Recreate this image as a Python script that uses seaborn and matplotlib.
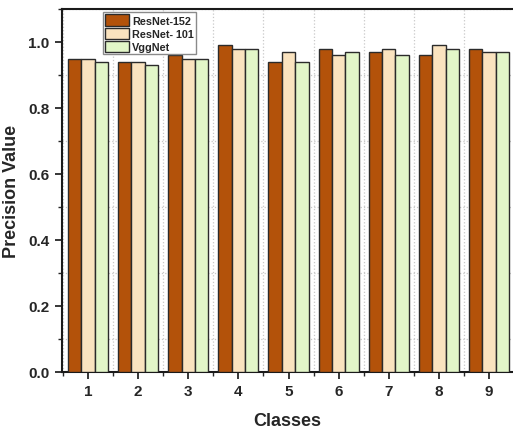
import matplotlib
matplotlib.use("Agg")
import matplotlib.pyplot as plt
from matplotlib.ticker import MultipleLocator
import numpy as np
import pandas as pd
import seaborn as sns

classes = ["1", "2", "3", "4", "5", "6", "7", "8", "9"]
models = ["ResNet-152", "ResNet- 101", "VggNet"]
resnet152 = [0.95, 0.94, 0.96, 0.99, 0.94, 0.98, 0.97, 0.96, 0.98]
resnet101 = [0.95, 0.94, 0.95, 0.98, 0.97, 0.96, 0.98, 0.99, 0.97]
vggnet = [0.94, 0.93, 0.95, 0.98, 0.94, 0.97, 0.96, 0.98, 0.97]
colors = ["#B3520A", "#FAE3BF", "#E2F6C8"]

df = pd.DataFrame({
    "Classes": classes * 3,
    "Model": np.repeat(models, len(classes)),
    "Precision": resnet152 + resnet101 + vggnet,
})

sns.set_style("white")
plt.rcParams["font.family"] = ["Liberation Sans", "DejaVu Sans"]
plt.rcParams["font.weight"] = "bold"

fig = plt.figure(figsize=(5.13, 4.31), dpi=100)
ax = fig.add_axes([62 / 513, 1 - 373 / 431, 451 / 513, 363 / 431])

sns.barplot(data=df, x="Classes", y="Precision", hue="Model", palette=colors,
            width=0.8, edgecolor="#2b2b2b", linewidth=1.0, saturation=1,
            ax=ax, zorder=3)

ax.set_xlim(-0.52, 8.48)
ax.set_ylim(0, 1.1)
ax.yaxis.set_major_locator(MultipleLocator(0.2))
ax.yaxis.set_minor_locator(MultipleLocator(0.1))
ax.xaxis.set_minor_locator(MultipleLocator(1, offset=0.5))
ax.set_yticks([0.0, 0.2, 0.4, 0.6, 0.8, 1.0])
ax.set_yticklabels(["0.0", "0.2", "0.4", "0.6", "0.8", "1.0"])

ax.grid(which="minor", color="#c8c8c8", linestyle=":", linewidth=0.9, zorder=0)
ax.grid(which="major", visible=False)
ax.set_axisbelow(True)

ax.tick_params(axis="both", which="major", direction="out", length=5, width=1.3,
               labelsize=11, bottom=True, left=True, pad=4)
ax.tick_params(axis="both", which="minor", direction="out", length=3, width=1.0,
               bottom=True, left=True)
for lab in ax.get_xticklabels() + ax.get_yticklabels():
    lab.set_fontweight("bold")

for side in ["left", "bottom", "top"]:
    ax.spines[side].set_visible(True)
    ax.spines[side].set_color("#1a1a1a")
    ax.spines[side].set_linewidth(1.5)
ax.spines["right"].set_visible(False)

ax.set_xlabel("Classes", fontsize=13, fontweight="bold", labelpad=10)
ax.set_ylabel("Precision Value", fontsize=13, fontweight="bold", labelpad=6)

leg = ax.legend(loc="upper left", bbox_to_anchor=(0.09, 0.991),
                prop={"weight": "bold", "size": 7.8}, frameon=True, fancybox=False,
                framealpha=1, handlelength=2.2, handleheight=1.25, handletextpad=0.35,
                labelspacing=0.15, borderpad=0.2, borderaxespad=0)
leg.get_frame().set_edgecolor("#8a8a8a")
leg.get_frame().set_linewidth(1.0)
leg.set_zorder(5)

fig.savefig("out.png", dpi=100)
